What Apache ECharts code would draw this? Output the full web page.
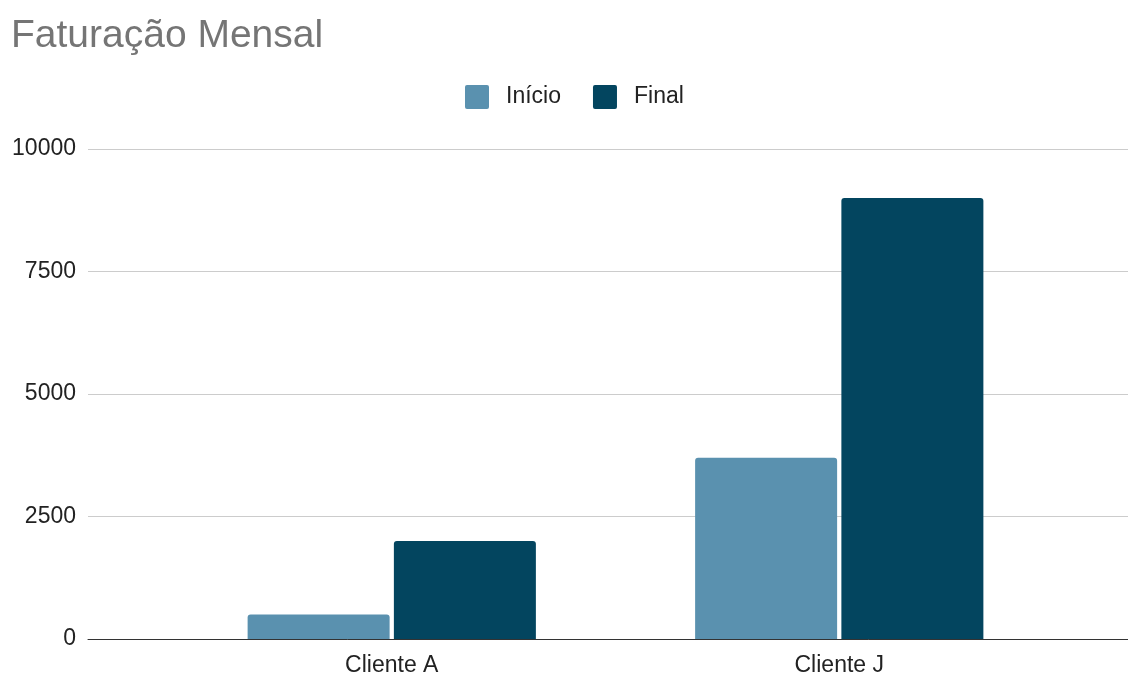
<!DOCTYPE html>
<html>
<head>
<meta charset="utf-8">
<title>Faturação Mensal</title>
<script src="https://cdn.jsdelivr.net/npm/echarts@6/dist/echarts.min.js"></script>
<style>
  html, body { margin: 0; padding: 0; background: #ffffff; }
  #chart { width: 1128px; height: 677px; }
</style>
</head>
<body>
<div id="chart"></div>
<script>
// Monthly revenue per client, at the start and at the end of the period
const categories = ['Cliente A', 'Cliente J'];
const seriesNames = ['Início', 'Final'];
const inicioValues = [500, 3700];
const finalValues = [2000, 9000];
const yTicks = [0, 2500, 5000, 7500, 10000];

const FONT = '"Liberation Sans", Arial, sans-serif';
const colors = ['#5a91af', '#03455f'];
const legendIcon = 'path://M2,0H22A2,2 0 0 1 24,2V22A2,2 0 0 1 22,24H2A2,2 0 0 1 0,22V2A2,2 0 0 1 2,0Z';

const chart = echarts.init(document.getElementById('chart'), null, { renderer: 'canvas' });

chart.setOption({
  backgroundColor: '#ffffff',
  animation: false,
  textStyle: { fontFamily: FONT },
  title: {
    text: 'Faturação Mensal',
    left: 11,
    top: 17,
    padding: 0,
    textStyle: { fontFamily: FONT, fontSize: 39, fontWeight: 'normal', color: '#757575' }
  },
  legend: {
    left: 465,
    top: 85,
    padding: 0,
    itemWidth: 24,
    itemHeight: 24,
    itemGap: 32,
    icon: legendIcon,
    data: seriesNames,
    textStyle: { fontFamily: FONT, fontSize: 23, color: '#222222', padding: [3, 0, 0, 12] }
  },
  grid: [
    // full-width grid carrying the value scale, gridlines and baseline
    { left: 88, right: 0, top: 149, bottom: 38, containLabel: false },
    // inner grid where the category bands and bars live
    { left: 168, right: 65, top: 149, bottom: 38, containLabel: false }
  ],
  xAxis: [
    {
      type: 'value', gridIndex: 0, min: 0, max: 1, z: 10,
      axisLine: { show: true, lineStyle: { color: '#333333', width: 1 } },
      axisTick: { show: false }, axisLabel: { show: false }, splitLine: { show: false }
    },
    {
      type: 'category', gridIndex: 1, data: categories,
      axisLine: { show: false }, axisTick: { show: false }, splitLine: { show: false },
      axisLabel: { fontFamily: FONT, fontSize: 23, color: '#222222', margin: 15 }
    }
  ],
  yAxis: [
    {
      type: 'value', gridIndex: 0,
      min: yTicks[0], max: yTicks[yTicks.length - 1], interval: yTicks[1] - yTicks[0],
      axisLine: { show: false }, axisTick: { show: false },
      axisLabel: {
        fontFamily: FONT, fontSize: 23, color: '#222222', margin: 12,
        padding: [5, 0, 0, 0],
        formatter: (v) => String(v)
      },
      splitLine: { show: true, lineStyle: { color: '#cccccc', width: 1 } }
    },
    {
      type: 'value', gridIndex: 1,
      min: yTicks[0], max: yTicks[yTicks.length - 1],
      show: false, splitLine: { show: false }
    }
  ],
  series: [
    {
      name: seriesNames[0], type: 'bar', xAxisIndex: 1, yAxisIndex: 1,
      data: inicioValues, barWidth: 142, barGap: '3%',
      itemStyle: { color: colors[0], borderRadius: [3, 3, 0, 0] }
    },
    {
      name: seriesNames[1], type: 'bar', xAxisIndex: 1, yAxisIndex: 1,
      data: finalValues, barWidth: 142, barGap: '3%',
      itemStyle: { color: colors[1], borderRadius: [3, 3, 0, 0] }
    }
  ]
});
</script>
</body>
</html>
